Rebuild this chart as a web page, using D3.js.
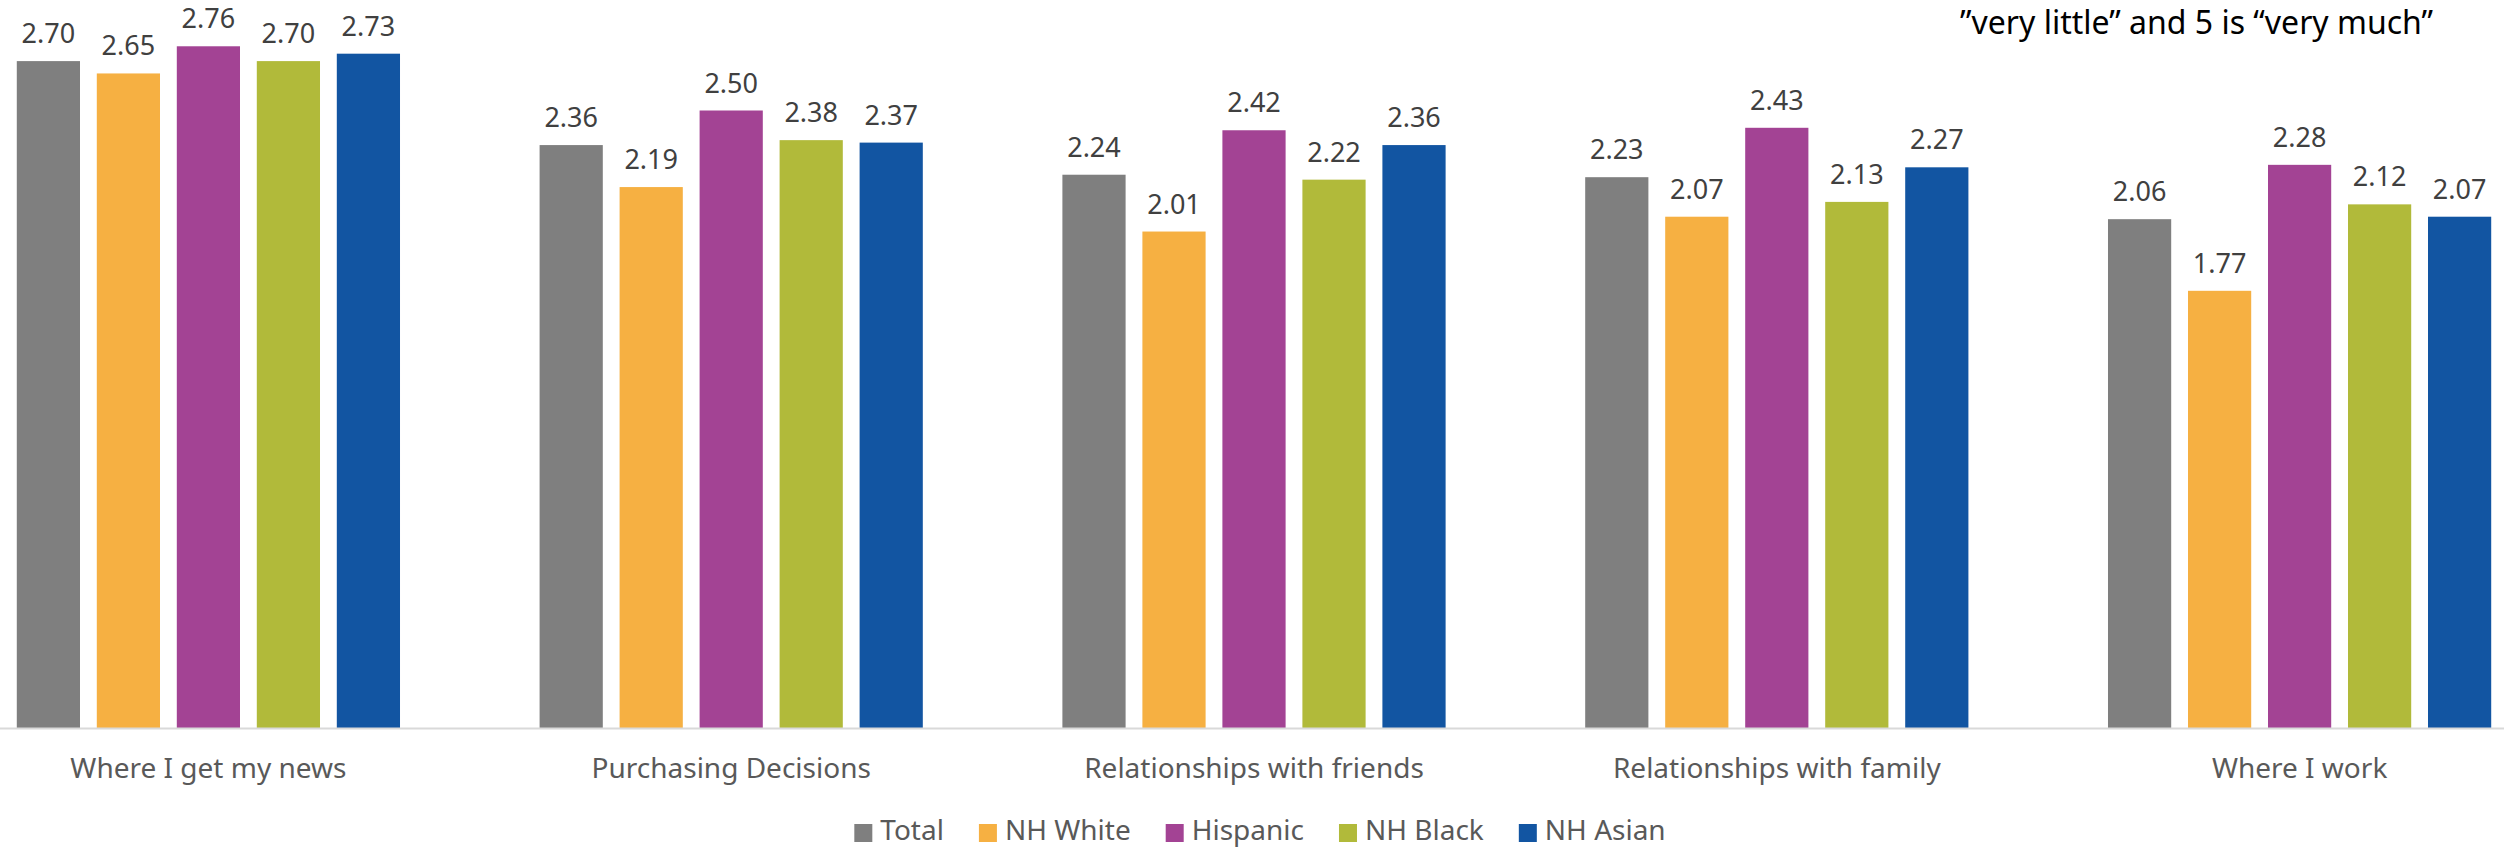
<!DOCTYPE html>
<html>
<head>
<meta charset="utf-8">
<script src="https://cdn.jsdelivr.net/npm/d3@7"></script>
<style>
  body { margin: 0; background: #fff; }
  text { font-family: "Noto Sans", sans-serif; }
</style>
</head>
<body>
<div id="chart"></div>
<script>
var categories = ['Where I get my news', 'Purchasing Decisions', 'Relationships with friends', 'Relationships with family', 'Where I work'];
var series = ['Total', 'NH White', 'Hispanic', 'NH Black', 'NH Asian'];
var total    = [2.70, 2.36, 2.24, 2.23, 2.06];
var nhWhite  = [2.65, 2.19, 2.01, 2.07, 1.77];
var hispanic = [2.76, 2.50, 2.42, 2.43, 2.28];
var nhBlack  = [2.70, 2.38, 2.22, 2.13, 2.12];
var nhAsian  = [2.73, 2.37, 2.36, 2.27, 2.07];
var colours  = ['#7f7f7f', '#f6b042', '#a34394', '#b1ba3a', '#1255a2'];
var subtitle = '\u201Dvery little\u201D and 5 is \u201Cvery much\u201D';

var width = 2504,
  height = 851,
  baseY = 728,
  values = [total, nhWhite, hispanic, nhBlack, nhAsian];

var rows = categories.map(function (c, i) {
  return {cat: c, vals: series.map(function (s, j) { return {key: s, value: values[j][i]}; })};
});

var svg = d3.select('#chart').append('svg')
  .attr('width', width).attr('height', height);

// plot area runs a bit past both edges (the picture is cropped)
var x0 = d3.scaleBand().domain(categories).range([-53, 2561])
  .paddingInner(0.267).paddingOuter(0.1335);
var x1 = d3.scaleBand().domain(series).range([0, x0.bandwidth()])
  .paddingInner(0.21).paddingOuter(0);
var y = d3.scaleLinear().domain([0, 3]).range([baseY, baseY - 3 * 247]);
var colour = d3.scaleOrdinal().domain(series).range(colours);

var groups = svg.append('g').selectAll('g')
  .data(rows)
  .enter()
  .append('g')
  .attr('transform', function (d) { return 'translate(' + x0(d.cat) + ',0)'; });

groups.selectAll('rect')
  .data(function (d) { return d.vals; })
  .enter()
  .append('rect')
  .attr('x', function (d) { return x1(d.key); })
  .attr('y', function (d) { return y(d.value); })
  .attr('width', x1.bandwidth())
  .attr('height', function (d) { return y(0) - y(d.value); })
  .style('fill', function (d) { return colour(d.key); });

groups.selectAll('text')
  .data(function (d) { return d.vals; })
  .enter()
  .append('text')
  .attr('x', function (d) { return x1(d.key) + x1.bandwidth() / 2; })
  .attr('y', function (d) { return y(d.value) - 18; })
  .attr('text-anchor', 'middle')
  .style('font-size', '27px')
  .style('fill', '#404040')
  .text(function (d) { return d.value.toFixed(2); });

// baseline
svg.append('line')
  .attr('x1', 0).attr('x2', width)
  .attr('y1', baseY + 0.5).attr('y2', baseY + 0.5)
  .style('stroke', '#d9d9d9')
  .style('stroke-width', 2);

// category labels
var xAxis = svg.append('g')
  .attr('transform', 'translate(0,' + baseY + ')')
  .call(d3.axisBottom(x0).tickSize(0).tickPadding(50));
xAxis.select('.domain').remove();
xAxis.selectAll('text')
  .attr('dy', 0)
  .style('font-family', '"Noto Sans", sans-serif')
  .style('font-size', '28px')
  .style('fill', '#595959');

// legend
var legend = svg.append('g');
var lx = 0;
series.forEach(function (s) {
  var item = legend.append('g').attr('transform', 'translate(' + lx + ',0)');
  item.append('rect')
    .attr('x', 0).attr('y', 824)
    .attr('width', 18).attr('height', 18)
    .style('fill', colour(s));
  var t = item.append('text')
    .attr('x', 26).attr('y', 840)
    .style('font-size', '28px')
    .style('fill', '#595959')
    .text(s);
  lx += 26 + t.node().getComputedTextLength() + 35;
});
lx -= 35;
legend.attr('transform', 'translate(' + (1260 - lx / 2) + ',0)');

// cut-off title line at top right
svg.append('text')
  .attr('x', 2433).attr('y', 34)
  .attr('text-anchor', 'end')
  .style('font-size', '32px')
  .style('fill', '#000')
  .text(subtitle);
</script>
</body>
</html>
